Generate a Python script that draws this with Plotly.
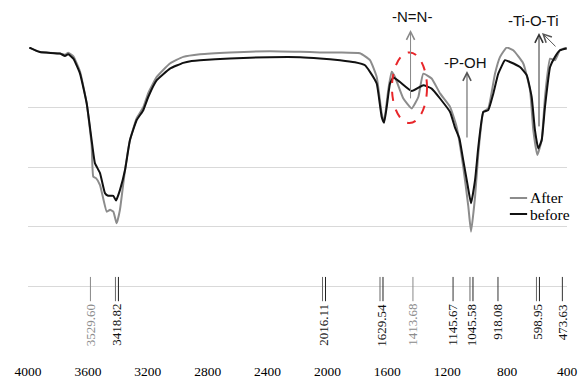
import plotly.graph_objects as go

# ---------------- data ----------------
before_wn = [3991, 3920, 3786, 3753, 3731, 3697, 3653, 3608, 3575, 3553, 3519, 3486, 3464, 3430, 3412,
             3386, 3352, 3319, 3274, 3230, 3197, 3140, 3052, 2963, 2907, 2851, 2651, 2384, 2183, 2050,
             1916, 1816, 1749, 1716, 1671, 1638, 1622, 1604, 1582, 1560, 1515, 1437, 1360, 1304, 1248,
             1181, 1148, 1119, 1093, 1066, 1041, 1014, 992, 959, 926, 892, 859, 814, 781, 714,
             669, 636, 614, 592, 569, 547, 513, 480, 447, 402]
before_T = [99.9, 98.4, 97.9, 97.1, 97.7, 96.2, 91.3, 81.3, 69.0, 61.3, 58.0, 51.3, 50.4, 50.4, 48.8,
            52.3, 59.0, 69.0, 75.7, 79.0, 83.4, 89.0, 92.9, 94.8, 95.4, 95.7, 96.3, 96.7, 96.7, 96.3,
            95.7, 95.0, 94.0, 91.8, 87.9, 76.8, 74.8, 80.1, 87.9, 89.9, 88.4, 85.4, 87.3, 86.2, 82.9,
            78.4, 73.2, 69.6, 62.3, 54.6, 47.9, 55.7, 66.8, 78.4, 79.0, 84.6, 91.2, 95.7, 95.1, 93.4,
            90.7, 83.4, 72.3, 66.2, 69.0, 80.1, 93.4, 96.8, 99.0, 99.6]

after_wn = [3991, 3920, 3786, 3753, 3731, 3697, 3653, 3608, 3575, 3564, 3546, 3519, 3474, 3452, 3430,
            3408, 3386, 3352, 3319, 3274, 3230, 3197, 3140, 3052, 2963, 2851, 2651, 2384, 2183, 2050,
            1916, 1783, 1716, 1671, 1638, 1622, 1594, 1571, 1549, 1493, 1437, 1393, 1360, 1304, 1248,
            1181, 1137, 1093, 1059, 1041, 1014, 992, 959, 926, 881, 847, 803, 759, 692, 647,
            625, 598, 569, 547, 513, 480, 447, 402]
after_T = [99.9, 98.4, 97.9, 97.5, 98.2, 97.0, 92.0, 81.3, 67.3, 56.8, 56.3, 54.0, 45.1, 45.7, 45.1,
           41.2, 45.7, 59.0, 69.0, 76.3, 80.0, 84.7, 90.1, 94.6, 96.8, 97.7, 98.3, 98.7, 98.5, 98.3,
           98.3, 98.0, 95.7, 90.1, 78.0, 75.1, 85.7, 91.8, 90.1, 82.9, 79.6, 83.4, 91.2, 89.6, 84.6,
           80.1, 73.4, 60.1, 46.8, 38.4, 50.1, 64.7, 78.4, 79.6, 91.2, 96.8, 99.9, 99.0, 94.6, 85.7,
           72.3, 64.0, 69.0, 83.4, 96.2, 95.7, 99.0, 99.9]

peak_labels = ["3529.60", "3418.82", "2016.11", "1629.54", "1413.68",
               "1145.67", "1045.58", "918.08", "598.95", "473.63"]
peak_marker_wn = [3583, 3406, 2023, 1639, 1429, 1161, 1038, 861, 594, 431]
peak_double = [False, True, True, True, False, False, True, False, True, False]
peak_from_after = [True, False, False, False, True, False, False, False, False, False]

x_ticks = [4000, 3600, 3200, 2800, 2400, 2000, 1600, 1200, 800, 400]

GRAY = "#8c8c8c"
BLACK = "#111111"
SERIF = "Liberation Serif"
SANS = "Liberation Sans"

fig = go.Figure()
fig.add_trace(go.Scatter(x=after_wn, y=after_T, mode="lines", name="After",
                         line=dict(color=GRAY, width=2, shape="spline", smoothing=0.4)))
fig.add_trace(go.Scatter(x=before_wn, y=before_T, mode="lines", name="before",
                         line=dict(color=BLACK, width=2, shape="spline", smoothing=0.4)))

shapes = []
annotations = []

# peak markers in lower band
for lab, xw, dbl, aft in zip(peak_labels, peak_marker_wn, peak_double, peak_from_after):
    col = GRAY if aft else BLACK
    xs = [xw + 10, xw - 10] if dbl else [xw]
    lc = ["#666666", "#222222"] if dbl else [("#888888" if aft else "#333333")]
    for xx, cc in zip(xs, lc):
        shapes.append(dict(type="line", xref="x", yref="y", x0=xx, x1=xx, y0=23.3, y1=15.2,
                           line=dict(color=cc, width=1)))
    annotations.append(dict(x=xw, y=15.0, xref="x", yref="y", text=lab, textangle=-90,
                            showarrow=False, xanchor="center", yanchor="top",
                            font=dict(family=SERIF, size=13, color=col)))

# red dashed ellipse
shapes.append(dict(type="circle", xref="x", yref="y", x0=1569, x1=1335, y0=74.7, y1=98.3,
                   line=dict(color="#e8262a", width=2, dash="dash")))

# group labels and arrows
annotations += [
    dict(x=1435, y=1.1, xref="x", yref="paper", text="-N=N-", showarrow=False,
         xanchor="center", yanchor="middle",
         font=dict(family=SANS, size=15, color="#111")),
    dict(x=1445, y=1.057, xref="x", yref="paper", text="", showarrow=True, arrowhead=5,
         arrowsize=1.6, arrowwidth=1, arrowcolor="#888888", ax=0, ay=70),
    dict(x=1081, y=0.947, xref="x", yref="paper", text="-P-OH", showarrow=False,
         xanchor="center", yanchor="middle",
         font=dict(family=SANS, size=15, color="#111")),
    dict(x=1068, y=0.92, xref="x", yref="paper", text="", showarrow=True, arrowhead=5,
         arrowsize=1.6, arrowwidth=1, arrowcolor="#555555", ax=0, ay=68),
    dict(x=627, y=1.087, xref="x", yref="paper", text="-Ti-O-Ti", showarrow=False,
         xanchor="center", yanchor="middle",
         font=dict(family=SANS, size=15, color="#111")),
    dict(x=587, y=1.047, xref="x", yref="paper", text="", showarrow=True, arrowhead=5,
         arrowsize=1.6, arrowwidth=1, arrowcolor="#333333", ax=0, ay=95),
    dict(x=567, y=1.047, xref="x", yref="paper", text="", showarrow=True, arrowhead=5,
         arrowsize=1.6, arrowwidth=1, arrowcolor="#555555", ax=15, ay=15),
]

# manual legend
for name, col, yp in [("After", GRAY, 0.4967), ("before", BLACK, 0.4433)]:
    shapes.append(dict(type="line", xref="paper", yref="paper", x0=0.894, x1=0.926, y0=yp, y1=yp,
                       line=dict(color=col, width=2)))
    annotations.append(dict(x=0.928, y=yp, xref="paper", yref="paper", text=name, showarrow=False,
                            xanchor="left", yanchor="middle",
                            font=dict(family=SERIF, size=15.5, color="#000")))

fig.update_layout(
    width=579, height=378,
    margin=dict(l=28, r=12, t=47, b=31, autoexpand=False),
    paper_bgcolor="white", plot_bgcolor="white",
    showlegend=False,
    shapes=shapes, annotations=annotations,
    xaxis=dict(range=[4000, 400], tickvals=x_ticks, ticktext=[str(v) for v in x_ticks],
               showgrid=False, zeroline=False, showline=False, automargin=False,
               ticks="outside", ticklen=12, tickcolor="rgba(0,0,0,0)",
               tickfont=dict(family=SERIF, size=13.5, color="#000")),
    yaxis=dict(range=[-0.1, 100.1], dtick=20, tick0=0, showgrid=True, gridcolor="#d9d9d9", gridwidth=1,
               zeroline=False, showline=False, showticklabels=False, ticks="", automargin=False),
)

fig.write_html("out.html")
